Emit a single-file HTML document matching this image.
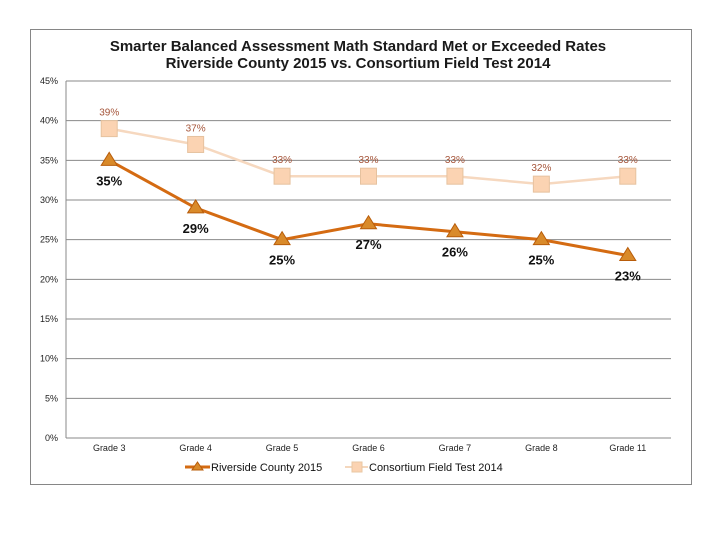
<!DOCTYPE html>
<html><head><meta charset="utf-8"><style>
body{margin:0;background:#fff;width:720px;height:540px;overflow:hidden;font-family:"Liberation Sans",Arial,sans-serif}
</style></head><body>
<svg id="c" width="720" height="540">
<rect x="30.5" y="29.5" width="661" height="455" fill="#fff" stroke="#868686"/>
<text x="358" y="51" text-anchor="middle" font-size="15" font-weight="bold" fill="#1a1a1a">Smarter Balanced Assessment Math Standard Met or Exceeded Rates</text>
<text x="358" y="68" text-anchor="middle" font-size="15" font-weight="bold" fill="#1a1a1a">Riverside County 2015 vs. Consortium Field Test 2014</text>
<g id="grid"></g><g id="marks"></g>
<g>
<line x1="185" y1="467" x2="210" y2="467" stroke="#d46b12" stroke-width="3"/>
<polygon points="197.5,462 203,470 192,470" fill="#d98a2a" stroke="#b85c0a"/>
<text x="211" y="471" font-size="11" fill="#111">Riverside County 2015</text>
<line x1="345" y1="467" x2="368" y2="467" stroke="#f4d7bd" stroke-width="2"/>
<rect x="352" y="462" width="10" height="10" fill="#fbd3b2" stroke="#e9c7a3"/>
<text x="369" y="471" font-size="11" fill="#111">Consortium Field Test 2014</text>
</g>
</svg>
<script>
const categories=["Grade 3","Grade 4","Grade 5","Grade 6","Grade 7","Grade 8","Grade 11"];
const riverside=[35,29,25,27,26,25,23];
const consortium=[39,37,33,33,33,32,33];
const yTicks=[0,5,10,15,20,25,30,35,40,45];
const L=66,R=671,T=81,B=438,ymax=45;
const NS="http://www.w3.org/2000/svg";
const xs=i=>L+(R-L)/categories.length*(i+0.5);
const ys=v=>B-(B-T)*v/ymax;
function mk(tag,attrs,parent,txt){const e=document.createElementNS(NS,tag);for(const k in attrs)e.setAttribute(k,attrs[k]);if(txt!==undefined)e.textContent=txt;parent.appendChild(e);return e;}
const g=document.getElementById('grid'),m=document.getElementById('marks');
yTicks.forEach(t=>{const y=ys(t);
const l=mk('line',{x1:L,x2:R,y1:y,y2:y,stroke:'#8a8a8a','stroke-width':1},g);


const tx=mk('text',{x:L-8,y:y+3,'text-anchor':'end','font-size':9,fill:'#222'},g,t+'%');

});
mk('line',{x1:L,x2:L,y1:T,y2:B,stroke:'#8a8a8a'},g);
categories.forEach((c,i)=>{const t=mk('text',{x:xs(i),y:451,'text-anchor':'middle','font-size':9,fill:'#222'},g,c);

});
const p2=mk('polyline',{points:consortium.map((v,i)=>xs(i)+','+ys(v)).join(' '),fill:'none',stroke:'#f6d8bf','stroke-width':2.5},m);


const p1=mk('polyline',{points:riverside.map((v,i)=>xs(i)+','+ys(v)).join(' '),fill:'none',stroke:'#d46b12','stroke-width':3},m);


consortium.forEach((v,i)=>{const x=xs(i),y=ys(v);
const r=mk('rect',{x:x-8,y:y-8,width:16,height:16,fill:'#fbd3b2',stroke:'#e6c29f'},m);


const t=mk('text',{x:x,y:y-13,'text-anchor':'middle','font-size':10,fill:'#a5553a'},m,v+'%');

});
riverside.forEach((v,i)=>{const x=xs(i),y=ys(v);
const p=mk('polygon',{points:`${x},${y-8} ${x+8},${y+5} ${x-8},${y+5}`,fill:'#d98a2a',stroke:'#b85c0a'},m);


const t=mk('text',{x:x,y:y+25,'text-anchor':'middle','font-size':13,'font-weight':'bold',fill:'#111'},m,v+'%');

});
</script>
</body></html>
